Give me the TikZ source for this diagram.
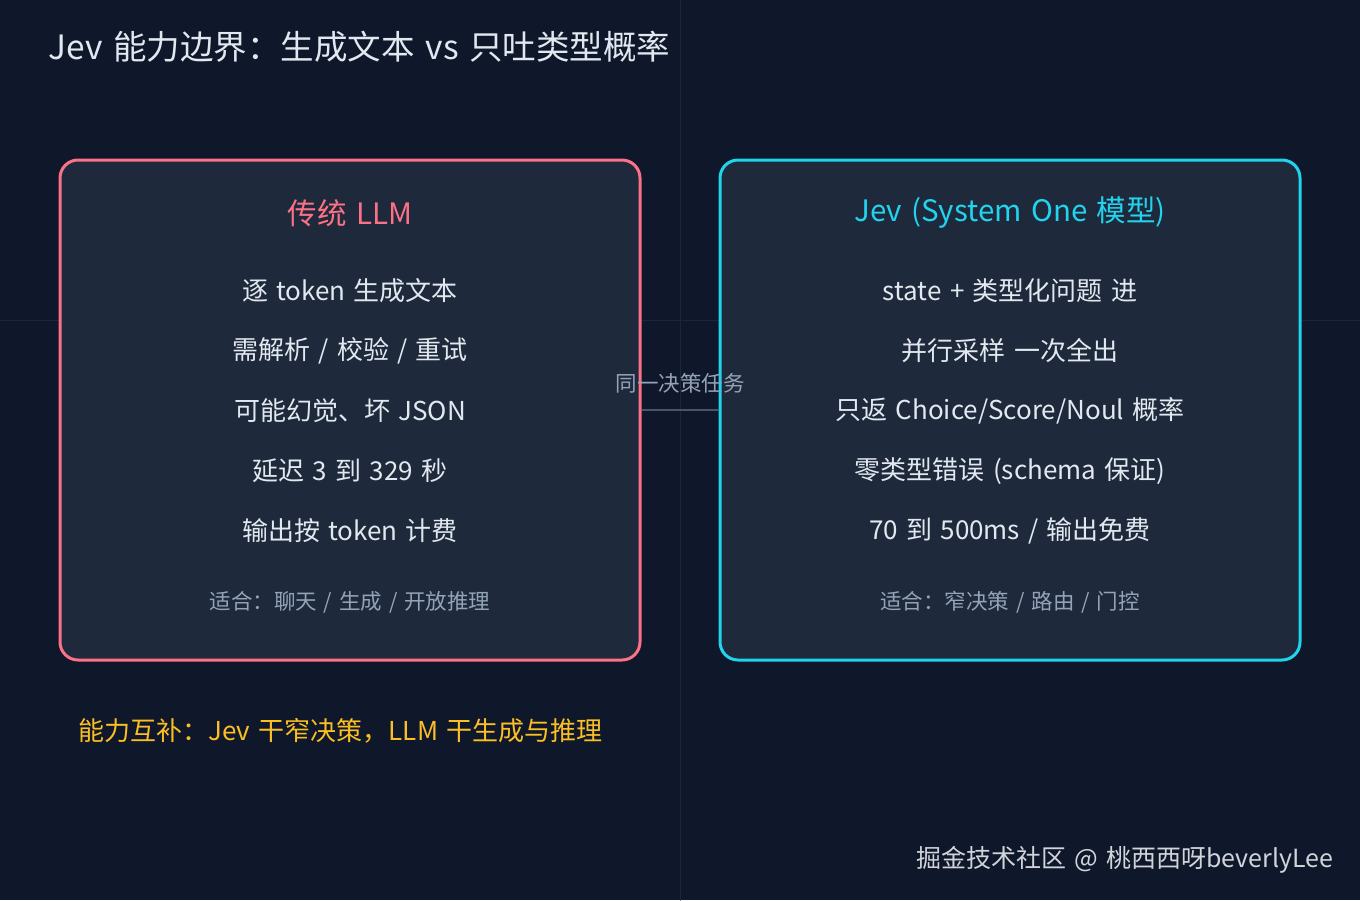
\documentclass[tikz,border=0pt]{standalone}
\usepackage{fontspec}
\setmainfont{Noto Sans CJK SC}
\definecolor{bgnavy}{HTML}{0F172A}
\definecolor{cardfill}{HTML}{1E293B}
\definecolor{gridline}{HTML}{1C2639}
\definecolor{rosepink}{HTML}{FB7185}
\definecolor{cyanline}{HTML}{22D3EE}
\definecolor{bodytext}{HTML}{E2E8F0}
\definecolor{mutetext}{HTML}{94A3B8}
\definecolor{linkgray}{HTML}{475569}
\definecolor{ambertext}{HTML}{FBBF24}
\definecolor{marktext}{HTML}{D1D5DB}
\newcommand{\fsz}[1]{\fontsize{#1}{#1}\selectfont\spaceskip=.32em\relax}
\begin{document}
\begin{tikzpicture}[x=1pt, y=-1pt, line cap=round, line join=round]
	\tikzset{card/.style={draw=#1, line width=3pt, fill=cardfill, rounded corners=18pt,
			minimum width=580pt, minimum height=500pt, inner sep=0pt},
		cardtitle/.style={font=\fsz{29.5}, text=#1},
		line text/.style={font=\fsz{26}, text=bodytext},
		fit text/.style={font=\fsz{21.5}, text=mutetext},
		link/.style={draw=linkgray, line width=2pt, line cap=butt}}
	\fill[bgnavy] (0,0) rectangle (1360,900);
	\useasboundingbox (0,0) rectangle (1360,900);
	\draw[gridline, line width=1pt] (680,0)--(680,900);
	\draw[gridline, line width=1pt] (0,320)--(1360,320);
	\node[anchor=west, font=\fsz{33.5}, text=bodytext] (title) at (45,47) {Jev 能力边界：生成文本 vs 只吐类型概率};
	% two cards
	\node[card=rosepink] (llm) at (350,410) {};
	\node[card=cyanline] (jev) at (1010,410) {};
	\draw[link] (llm.east) -- (jev.west) node[midway, yshift=27pt, fit text] (task) {同一决策任务};
	\node[cardtitle=rosepink] (llmtitle) at (350,213) {传统 LLM};
	\node[cardtitle=cyanline] (jevtitle) at (1010,213) {Jev (System One 模型)};
	\foreach \txt [count=\i] in {逐 token 生成文本, 需解析 / 校验 / 重试, 可能幻觉、坏 JSON, 延迟 3 到 329 秒, 输出按 token 计费}
		\node[line text] (llm\i) at (350,231+60*\i) {\txt};
	\foreach \txt [count=\i] in {state + 类型化问题 进, 并行采样 一次全出, 只返 Choice/Score/Noul 概率, 零类型错误 (schema 保证), 70 到 500ms / 输出免费}
		\node[line text] (jev\i) at (1010,231+60*\i) {\txt};
	\node[fit text] (llmfit) at (350,602) {适合：聊天 / 生成 / 开放推理};
	\node[fit text] (jevfit) at (1010,602) {适合：窄决策 / 路由 / 门控};
	\node[anchor=west, font=\fsz{26}, text=ambertext] (summary) at (75,731) {能力互补：Jev 干窄决策，LLM 干生成与推理};
	\node[anchor=east, font=\fsz{25}, text=marktext] (mark) at (1337,860) {掘金技术社区 @ 桃西西呀beverlyLee};
\end{tikzpicture}
\end{document}
